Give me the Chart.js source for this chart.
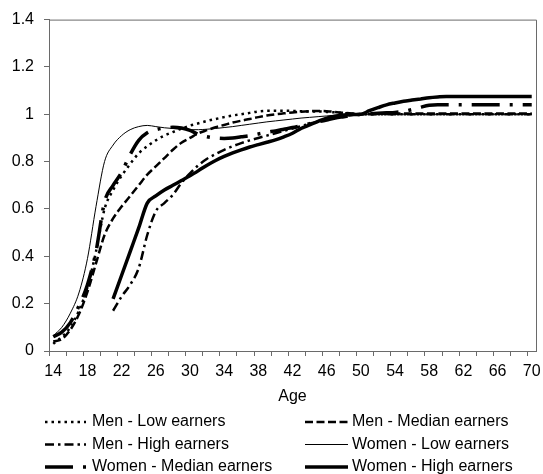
<!DOCTYPE html>
<html>
<head>
<meta charset="utf-8">
<script src="https://cdn.jsdelivr.net/npm/chart.js@4.4.1/dist/chart.umd.min.js"></script>
<style>
  html, body { margin: 0; padding: 0; background: #fff; }
  #wrap { width: 543px; height: 474px; }
</style>
</head>
<body>
<div id="wrap"><canvas id="c" width="543" height="474"></canvas></div>
<script>
// Age categories (x axis)
const ages = [14, 15, 16, 17, 18, 19, 20, 21, 22, 23, 24, 25, 26, 27, 28, 29, 30,
  31, 32, 33, 34, 35, 36, 37, 38, 39, 40, 41, 42, 43, 44, 45, 46, 47, 48, 49, 50,
  51, 52, 53, 54, 55, 56, 57, 58, 59, 60, 61, 62, 63, 64, 65, 66, 67, 68, 69, 70];

// Y axis tick values
const yTicks = [0, 0.2, 0.4, 0.6, 0.8, 1, 1.2, 1.4];

// Relative earnings profiles by age (age 50 = 1)
const menLow = [0.03, 0.06, 0.10, 0.17, 0.27, 0.42, 0.60, 0.68, 0.74, 0.79, 0.835,
  0.865, 0.89, 0.91, 0.925, 0.94, 0.952, 0.962, 0.972, 0.98, 0.988, 0.995, 1.0,
  1.006, 1.012, 1.015, 1.015, 1.015, 1.014, 1.013, 1.012, 1.012, 1.01, 1.008, 1.005,
  1.002, 1.0, 1.0, 1.0, 1.0, 1.0, 1.0, 1.0, 1.0, 1.0, 1.0, 1.0, 1.0, 1.0, 1.0, 1.0,
  1.0, 1.0, 1.0, 1.0, 1.0, 1.0];

const menMedian = [0.04, 0.05, 0.09, 0.155, 0.25, 0.37, 0.49, 0.56, 0.61, 0.655, 0.70,
  0.745, 0.78, 0.815, 0.85, 0.88, 0.90, 0.92, 0.933, 0.945, 0.955, 0.965, 0.973,
  0.98, 0.988, 0.995, 1.0, 1.004, 1.008, 1.011, 1.013, 1.014, 1.013, 1.01, 1.006,
  1.003, 1.0, 1.002, 1.003, 1.003, 1.003, 1.003, 1.003, 1.003, 1.003, 1.003, 1.003,
  1.003, 1.003, 1.003, 1.003, 1.003, 1.003, 1.003, 1.003, 1.003, 1.003];

const menHigh = [null, null, null, null, null, null, null, 0.17, 0.23, 0.28, 0.35,
  0.49, 0.59, 0.625, 0.66, 0.71, 0.75, 0.785, 0.812, 0.832, 0.85, 0.865, 0.878,
  0.89, 0.90, 0.91, 0.92, 0.93, 0.94, 0.95, 0.96, 0.97, 0.978, 0.986, 0.992, 0.997,
  1.0, 1.0, 1.0, 1.0, 1.0, 1.0, 1.0, 1.0, 1.0, 1.0, 1.0, 1.0, 1.0, 1.0, 1.0, 1.0,
  1.0, 1.0, 1.0, 1.0, 1.0];

const womenLow = [0.065, 0.10, 0.16, 0.245, 0.39, 0.61, 0.80, 0.87, 0.91, 0.935,
  0.948, 0.953, 0.948, 0.943, 0.94, 0.937, 0.935, 0.935, 0.937, 0.94, 0.944, 0.948,
  0.953, 0.958, 0.963, 0.968, 0.972, 0.976, 0.98, 0.984, 0.987, 0.99, 0.993, 0.996,
  0.998, 1.0, 1.0, 1.0, 1.0, 1.0, 1.0, 1.0, 1.0, 1.0, 1.0, 1.0, 1.0, 1.0, 1.0, 1.0,
  1.0, 1.0, 1.0, 1.0, 1.0, 1.0, 1.0];

const womenMedian = [0.06, 0.08, 0.12, 0.19, 0.28, 0.42, 0.63, 0.70, 0.755, 0.83,
  0.89, 0.922, 0.935, 0.942, 0.945, 0.942, 0.932, 0.915, 0.905, 0.90, 0.898, 0.90,
  0.905, 0.91, 0.917, 0.924, 0.93, 0.937, 0.944, 0.952, 0.96, 0.968, 0.976, 0.984,
  0.99, 0.996, 1.0, 1.002, 1.004, 1.006, 1.008, 1.012, 1.02, 1.03, 1.038, 1.04, 1.04,
  1.04, 1.04, 1.04, 1.04, 1.04, 1.04, 1.04, 1.04, 1.04, 1.04];

const womenHigh = [null, null, null, null, null, null, null, 0.22, 0.32, 0.42, 0.52,
  0.625, 0.655, 0.68, 0.70, 0.72, 0.74, 0.762, 0.785, 0.805, 0.822, 0.837, 0.85,
  0.862, 0.872, 0.882, 0.892, 0.905, 0.92, 0.94, 0.955, 0.97, 0.984, 0.992, 0.997,
  0.999, 1.0, 1.015, 1.028, 1.04, 1.048, 1.055, 1.06, 1.065, 1.07, 1.073, 1.075,
  1.075, 1.075, 1.075, 1.075, 1.075, 1.075, 1.075, 1.075, 1.075, 1.075];

const seriesNames = [
  'Men - Low earners', 'Men - Median earners',
  'Men - High earners', 'Women - Low earners',
  'Women - Median earners', 'Women - High earners'
];
const seriesData = [menLow, menMedian, menHigh, womenLow, womenMedian, womenHigh];

// Line styles for each series (all black)
const lineStyles = [
  { width: 2.5, dash: [2.5, 4] },          // dotted
  { width: 2.5, dash: [8, 3.5] },          // dashed
  { width: 2.5, dash: [9, 4, 2.5, 4] },    // dash-dot
  { width: 1,   dash: [] },                // thin solid
  { width: 3.5, dash: [28, 10, 3, 10] },   // thick long dash-dot
  { width: 3.5, dash: [] }                 // thick solid
];

const FONT = "'Liberation Sans', Arial, Helvetica, sans-serif";
const AXIS_COLOR = '#6a6a6a';

// Frame lines on the top and right of the plot area
const framePlugin = {
  id: 'frame',
  afterDraw(chart) {
    const { ctx, chartArea: a } = chart;
    ctx.save();
    ctx.strokeStyle = AXIS_COLOR;
    ctx.lineWidth = 1;
    ctx.beginPath();
    ctx.moveTo(a.left, a.top + 0.5);
    ctx.lineTo(a.right + 0.5, a.top + 0.5);
    ctx.lineTo(a.right + 0.5, a.bottom);
    ctx.stroke();
    ctx.restore();
  }
};

// Two-column legend below the axis title
const legendPlugin = {
  id: 'twoColumnLegend',
  afterDraw(chart) {
    const { ctx } = chart;
    const cols = [{ x: 45, w: 41, tx: 92 }, { x: 305, w: 43, tx: 352 }];
    const rows = [422, 444.5, 467];
    ctx.save();
    chart.data.datasets.forEach((ds, i) => {
      const c = cols[i % 2];
      const y = rows[Math.floor(i / 2)];
      ctx.strokeStyle = ds.borderColor;
      ctx.lineWidth = ds.borderWidth;
      ctx.lineCap = 'butt';
      ctx.setLineDash(ds.borderDash || []);
      ctx.beginPath();
      ctx.moveTo(c.x, y);
      ctx.lineTo(c.x + c.w, y);
      ctx.stroke();
      ctx.setLineDash([]);
      ctx.fillStyle = '#000';
      ctx.font = '16px ' + FONT;
      ctx.textAlign = 'left';
      ctx.textBaseline = 'middle';
      ctx.fillText(ds.label, c.tx, y);
    });
    ctx.restore();
  }
};

const datasets = seriesData.map((d, i) => ({
  label: seriesNames[i],
  data: d,
  borderColor: '#000',
  backgroundColor: '#000',
  borderWidth: lineStyles[i].width,
  borderDash: lineStyles[i].dash,
  borderCapStyle: 'butt',
  borderJoinStyle: 'round',
  fill: false,
  pointRadius: 0,
  spanGaps: false,
  cubicInterpolationMode: 'monotone'
}));

new Chart(document.getElementById('c'), {
  type: 'line',
  data: { labels: ages.map(String), datasets },
  options: {
    responsive: false,
    animation: false,
    devicePixelRatio: 1,
    layout: { padding: { top: 17, right: 7, bottom: 68, left: 0 } },
    plugins: { legend: { display: false }, tooltip: { enabled: false } },
    scales: {
      x: {
        type: 'category',
        offset: true,
        grid: {
          offset: true,
          drawOnChartArea: false,
          tickLength: 5,
          tickWidth: 1,
          tickColor: (c) => (c.index % 2 === 0 ? AXIS_COLOR : 'rgba(0,0,0,0)')
        },
        border: { color: AXIS_COLOR, width: 1 },
        ticks: {
          autoSkip: false,
          maxRotation: 0,
          minRotation: 0,
          padding: 6,
          color: '#000',
          font: { family: FONT, size: 16 },
          callback(value, index) {
            return index % 4 === 0 ? this.getLabelForValue(value) : '';
          }
        },
        title: {
          display: true,
          text: 'Age',
          color: '#000',
          font: { family: FONT, size: 16 },
          padding: { top: 0, bottom: 0 }
        },
        afterFit(scale) {
          scale.height = 55;
          scale.paddingLeft = 0;
          scale.paddingRight = 0;
        }
      },
      y: {
        min: 0,
        max: 1.4,
        afterBuildTicks(scale) {
          scale.ticks = yTicks.map(v => ({ value: v }));
        },
        grid: { drawOnChartArea: false, tickLength: 5, color: AXIS_COLOR },
        border: { color: AXIS_COLOR, width: 1 },
        ticks: {
          padding: 10,
          color: '#000',
          font: { family: FONT, size: 16 },
          callback: (v) => String(Math.round(v * 10) / 10)
        },
        afterFit(scale) {
          scale.width = 49;
        }
      }
    }
  },
  plugins: [framePlugin, legendPlugin]
});
</script>
</body>
</html>
